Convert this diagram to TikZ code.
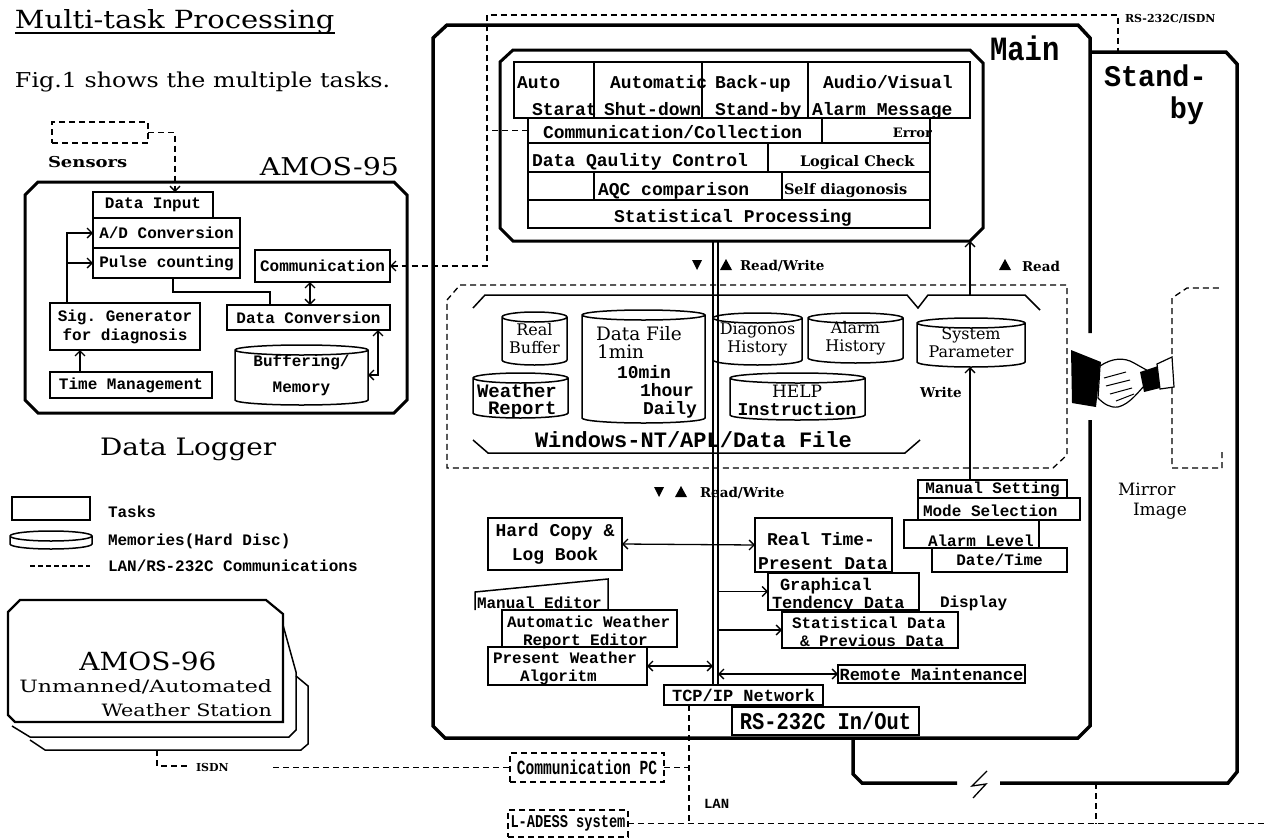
\documentclass[tikz,border=0pt]{standalone}
\usepackage{fontspec}
\setmainfont{DejaVu Serif}
\setmonofont{Liberation Mono}
\usetikzlibrary{arrows.meta,calc}

\newcommand\fsz[1]{\fontsize{#1}{#1}\selectfont}
\newcommand\hs[2]{\scalebox{#1}[1]{#2}}

\tikzset{
  every node/.style={inner sep=0pt,outer sep=0pt},
  mono/.style={font=\ttfamily\bfseries\fsz{#1}},
  rom/.style={font=\fsz{#1}},
  romb/.style={font=\bfseries\fsz{#1}},
  lbl/.style={anchor=base west},
  taskbox/.style={draw,line width=1.5pt,align=center},
  memline/.style={line width=1.5pt},
  conn/.style={line width=1.3pt},
  >={Straight Barb[length=5pt,width=10pt]},
  arr/.style={conn,->},
  darr/.style={conn,<->},
  comline/.style={line width=1.3pt,dash pattern=on 6pt off 4pt},
  heavy/.style={line width=3.5pt},
  panel/.style={line width=3pt},
}

% box given by its corners (x1,y1) (x2,y2)
\newcommand\boxat[7][]{\node[taskbox,#1,anchor=north west,
  minimum width={(#5-#3)*1pt},minimum height={(#6-#4)*1pt}] (#2) at (#3,#4) {#7};}
% drum (hard disc) symbol given by its corners
\newcommand\drumat[7][]{%
  \node[anchor=north west,align=center,#1,
    minimum width={(#5-#3)*1pt},minimum height={(#6-#4)*1pt}] (#2) at (#3,#4) {#7};
  \draw[memline] (#3,#4+5) -- (#3,#6-5)
     arc[start angle=180,end angle=0,x radius={(#5-#3)/2},y radius=5]
     -- (#5,#4+5)
     arc[start angle=0,end angle=-180,x radius={(#5-#3)/2},y radius=5] -- cycle
     (#3,#4+5) arc[start angle=180,end angle=0,x radius={(#5-#3)/2},y radius=5];}
\newcommand\tridown[3]{\fill (#2-5,#3-5) -- (#2+5,#3-5) -- (#2,#3+5) -- cycle;}
\newcommand\triup[3]{\fill (#2-6,#3+5) -- (#2+6,#3+5) -- (#2,#3-6) -- cycle;}

\begin{document}
\begin{tikzpicture}[x=1pt,y=-1pt]
\useasboundingbox (0,0) rectangle (1267,838);

% ---------- heading ----------
\node[rom=25,lbl] (title) at (15,28) {\hs{1.16}{Multi-task Processing}};
\draw[line width=1.2pt] ($(title.base west)+(0,5)$) -- ($(title.base east)+(0,5)$);
\node[rom=20.5,lbl] (intro) at (15,87) {\hs{1.16}{Fig.1 shows the multiple tasks.}};

% ---------- data logger AMOS-95 ----------
\node[draw,comline,anchor=north west,minimum width=96pt,minimum height=21pt] (sens) at (52,122) {};
\node[romb=15,lbl] (senslbl) at (48,167) {\hs{1.2}{Sensors}};
\node[rom=24.5,anchor=base east] (amos95) at (399,175) {\hs{1.16}{AMOS-95}};
\draw[panel] (25,195) -- (38,182) -- (394,182) -- (407,195) -- (407,400) -- (394,413) -- (38,413) -- (25,400) -- cycle;

\boxat[mono=16]{din}{93}{192}{213}{218}{Data Input}
\boxat[mono=16]{adc}{93}{218}{240}{248}{A/D Conversion}
\boxat[mono=16]{pulse}{93}{248}{240}{278}{Pulse counting}
\boxat[mono=16]{comm}{255}{250}{390}{282}{Communication}
\boxat[mono=16]{sig}{50}{303}{200}{350}{Sig. Generator\\[3pt] for diagnosis}
\boxat[mono=16]{dconv}{227}{305}{390}{330}{Data Conversion}
\boxat[mono=16]{tm}{50}{372}{212}{398}{Time Management}
\drumat[mono=16]{buf}{235}{345}{368}{405}{Buffering/\\[10pt]Memory}
\node[rom=24,lbl] (dlog) at (100,455) {\hs{1.16}{Data Logger}};

\coordinate (sensin) at (175,192);
\draw[comline,->] (sens.east) -| (sensin);
\draw[arr] ($(sig.north west)+(17,0)$) |- (adc.west);
\draw[arr] ($(sig.north west)+(17,0)$) |- (pulse.west);
\draw[arr] ($(tm.north west)+(30,0)$) -- ($(sig.south west)+(30,0)$);
\draw[conn] ($(pulse.south west)+(80,0)$) |- ($(dconv.north west)+(43,-13)$) -- ($(dconv.north west)+(43,0)$);
\draw[darr] ($(comm.south west)+(55,0)$) -- ($(dconv.north west)+(83,0)$);
\draw[darr] ($(dconv.south east)+(-12,0)$) |- (buf.east);

% ---------- legend ----------
\boxat{lgtask}{12}{497}{90}{520}{}
\node[mono=16,lbl] (lgt) at (108,517) {Tasks};
\drumat{lgmem}{10}{531}{92}{549}{}
\node[mono=16,lbl] (lgm) at (108,545) {Memories(Hard Disc)};
\coordinate (lgA) at (30,566); \coordinate (lgB) at (90,566);
\draw[line width=2pt,dash pattern=on 5pt off 3pt] (lgA) -- (lgB);
\node[mono=16,lbl] (lgl) at (108,571) {LAN/RS-232C Communications};

% ---------- AMOS-96 station ----------
\draw[line width=1.5pt] (296,676) -- (308,686) -- (308,744) -- (301,750) -- (45,750) -- (30,740);
\draw[line width=1.5pt] (283,625) -- (296,672) -- (296,730) -- (289,737) -- (30,737) -- (12,726);
\draw[line width=2.2pt,fill=white] (8,612) -- (20,600) -- (266,600) -- (283,614) -- (283,722) -- (15,722) -- (8,715) -- cycle;
\node[rom=25,anchor=base] (a96) at (148,670) {\hs{1.12}{AMOS-96}};
\node[rom=17,anchor=base east] (a96b) at (272,692) {\hs{1.3}{Unmanned/Automated}};
\node[rom=17,anchor=base east] (a96c) at (272,716) {\hs{1.22}{Weather Station}};

% ---------- main computer ----------
\draw[heavy] (1090,333) -- (1090,38) -- (1078,25) -- (447,25) -- (433,38) -- (433,726) -- (445,738) -- (1078,738) -- (1090,726) -- (1090,420);
\node[mono=34,lbl] (mainlbl) at (990,60) {\hs{0.85}{Main}};

% task panel
\draw[panel] (500,62) -- (513,50) -- (970,50) -- (983,63) -- (983,228) -- (970,241) -- (513,241) -- (500,228) -- cycle;
\boxat{c1}{514}{62}{594}{118}{}
\boxat{c2}{594}{62}{702}{118}{}
\boxat{c3}{702}{62}{808}{118}{}
\boxat{c4}{808}{62}{970}{118}{}
\boxat{c5}{528}{118}{822}{143}{}
\boxat{c6}{822}{118}{930}{143}{}
\boxat{c7}{528}{143}{768}{172}{}
\boxat{c8}{768}{143}{930}{172}{}
\boxat{c9}{594}{172}{782}{200}{}
\boxat{c10}{782}{172}{930}{200}{}
\boxat{c11}{528}{200}{930}{228}{}
\draw[line width=1.5pt] (c7.south west) -- (c11.north west);
\node[mono=18,lbl] (t1) at (517,88) {Auto};
\node[mono=18,lbl] (t2) at (532,115) {Starat};
\node[mono=18,lbl] (t3) at (610,88) {Automatic};
\node[mono=18,lbl] (t4) at (604,115) {Shut-down};
\node[mono=18,lbl] (t5) at (715,88) {Back-up};
\node[mono=18,lbl] (t6) at (715,115) {Stand-by};
\node[mono=18,lbl] (t7) at (823,88) {Audio/Visual};
\node[mono=18,lbl] (t8) at (812,115) {Alarm Message};
\node[mono=18,lbl] (t9) at (543,138) {Communication/Collection};
\node[romb=13,anchor=base east] (t10) at (932,137) {Error};
\node[mono=18,lbl] (t11) at (532,166) {Data Qaulity Control};
\node[romb=14.5,lbl] (t12) at (800,166) {Logical Check};
\node[romb=14.5,lbl] (t14) at (784,194) {Self diagonosis};
\node[mono=18,lbl] (t13) at (598,195) {AQC comparison};
\node[mono=18,anchor=base] (t15) at (733,222) {Statistical Processing};

% data file area
\draw[comline] (447,300) -- (460,285) -- (1067,285) -- (1067,455) -- (1053,468) -- (447,468) -- cycle;
\draw[memline] (473,308) -- (485,295) -- (907,295) -- (918,308) -- (928,295) -- (1025,295) -- (1040,310);
\draw[memline] (473,440) -- (488,453) -- (905,453) -- (920,440);
\drumat[rom=16]{rb}{502}{312}{567}{365}{Real\\[2pt]Buffer}
\drumat{df}{582}{310}{705}{423}{}
\node[rom=18.5,lbl] (df1) at (596,340) {Data File};
\node[rom=18.5,lbl] (df2) at (597,358) {1min};
\node[mono=18,lbl] (df3) at (617,378) {10min};
\node[mono=18,lbl] (df4) at (640,396) {1hour};
\node[mono=18,lbl] (df5) at (643,414) {Daily};
\drumat[rom=16]{dh}{713}{313}{802}{365}{Diagonos\\[2pt]History}
\drumat[rom=16]{ah}{808}{313}{903}{363}{Alarm\\[2pt]History}
\drumat[rom=16]{sp}{917}{318}{1025}{367}{System\\[2pt]Parameter}
\drumat{wr}{473}{373}{568}{418}{}
\node[mono=19,lbl] (wr1) at (477,397) {Weather};
\node[mono=19,lbl] (wr2) at (488,414) {Report};
\drumat{help}{730}{373}{865}{420}{}
\node[rom=17,anchor=base] (help1) at (797,397) {HELP};
\node[mono=18,anchor=base] (help2) at (797,415) {Instruction};
\node[mono=22,lbl] (winlbl) at (535,447) {Windows-NT/APL/Data File};

% lower task boxes
\boxat[mono=18]{hc}{488}{518}{622}{570}{Hard Copy \&\\[6pt]Log Book}
\boxat{rt}{755}{518}{892}{572}{}
\node[mono=18,lbl] (rt1) at (767,545) {Real Time-};
\node[mono=18,lbl] (rt2) at (758,569) {Present Data};
\boxat{gt}{768}{573}{919}{610}{}
\node[mono=17,lbl] (gt1) at (780,590) {Graphical};
\node[mono=17,lbl] (gt2) at (772,608) {Tendency Data};
\node[mono=16,lbl] (disp) at (940,607) {Display};
\boxat{sdp}{782}{612}{958}{648}{}
\node[mono=16,lbl] (sdp1) at (792,628) {Statistical Data};
\node[mono=16,lbl] (sdp2) at (800,646) {\& Previous Data};
\draw[line width=1.5pt] (475,610) -- (475,592) -- (608,579) -- (608,610);
\node[mono=16,lbl] (me) at (477,608) {Manual Editor};
\boxat[fill=white]{awr}{502}{610}{677}{647}{}
\node[mono=16,lbl] (awr1) at (507,627) {Automatic Weather};
\node[mono=16,lbl] (awr2) at (523,645) {Report Editor};
\boxat{pwa}{488}{647}{647}{685}{}
\node[mono=16,lbl] (pwa1) at (493,663) {Present Weather};
\node[mono=16,lbl] (pwa2) at (520,681) {Algoritm};
\boxat[mono=17]{rm}{838}{665}{1025}{683}{Remote Maintenance}
\boxat[mono=17]{tcp}{664}{685}{823}{705}{TCP/IP Network}
\boxat[mono=24]{rs}{732}{707}{919}{735}{\hs{0.85}{RS-232C In/Out}}

% settings boxes
\boxat[mono=16]{ms}{918}{480}{1067}{498}{Manual Setting}
\boxat{mode}{918}{498}{1080}{520}{}
\node[mono=16,lbl] (mode1) at (923,516) {Mode Selection};
\boxat{al}{904}{520}{1039}{548}{}
\node[mono=16,lbl] (al1) at (928,546) {Alarm Level};
\boxat[mono=16,fill=white]{dt}{932}{548}{1067}{572}{Date/Time}

% data bus and read/write links
\coordinate (busA) at (713,241);
\coordinate (busB) at (718,241);
\draw[line width=1.2pt] (busA) -- (busA |- tcp.north);
\draw[line width=1.2pt] (busB) -- (busB |- tcp.north);
\tridown{up1}{697}{265}
\triup{up2}{726}{265}
\node[romb=13.5,lbl] (rw1) at (740,270) {Read/Write};
\tridown{lo1}{659}{492}
\triup{lo2}{681}{492}
\node[romb=13.5,lbl] (rw2) at (700,497) {Read/Write};
\coordinate (rdA) at (970,295);
\coordinate (rdB) at (970,241);
\draw[arr] (rdA) -- (rdB);
\triup{rd}{1005}{265}
\node[romb=13.5,lbl] (rdlbl) at (1022,271) {Read};
\draw[arr] (ms.north -| rdA) -- (sp.south -| rdA);
\node[romb=13.5,lbl] (wrlbl) at (920,397) {Write};

\draw[darr] (hc.east) -- (rt.west);
\draw[arr] (gt.west -| busB) -- (gt.west);
\draw[arr] (sdp.west -| busB) -- (sdp.west);
\draw[darr] (pwa.east) -- (pwa.east -| busA);
\draw[darr] (rm.west -| busB) -- (rm.west);

% ---------- stand-by computer ----------
\draw[heavy] (1091,52) -- (1226,52) -- (1237,64) -- (1237,772) -- (1228,783) -- (1000,783);
\draw[heavy] (957,783) -- (862,783) -- (853,774) -- (853,738);
\draw[line width=1.3pt] (987,771) -- (972,786) -- (986,784) -- (973,798);
\node[mono=30,lbl] (sby1) at (1104,86) {\hs{0.95}{Stand-}};
\node[mono=30,anchor=base east] (sby2) at (1204,118) {\hs{0.95}{by}};
\draw[comline] (1222,452) -- (1222,468) -- (1172,468) -- (1172,298) -- (1187,288) -- (1222,288);
\node[rom=17,lbl] (mir1) at (1118,495) {Mirror};
\node[rom=17,lbl] (mir2) at (1133,515) {Image};

% handshake between the two computers
\fill (1071,350) -- (1101,362) -- (1096,407) -- (1072,403) -- cycle;
\draw[line width=1.2pt,fill=white] (1100,366) .. controls (1112,358) and (1124,357) .. (1134,363) -- (1150,372) -- (1146,384) .. controls (1138,392) and (1130,404) .. (1118,407) .. controls (1110,408) and (1104,404) .. (1098,398) -- cycle;
\draw[line width=1pt] (1104,378) -- (1126,372) (1106,386) -- (1130,380) (1110,394) -- (1132,388) (1116,401) -- (1134,394);
\fill (1140,372) -- (1158,366) -- (1160,388) -- (1144,392) -- cycle;
\draw[line width=1.2pt,fill=white] (1157,364) -- (1172,357) -- (1174,387) -- (1160,389) -- cycle;

% ---------- communication links ----------
\coordinate (netA) at (487,15);
\coordinate (netB) at (1118,15);
\coordinate (sbytop) at (1118,52);
\draw[comline,<-] (comm.east) -| (netA) -- (netB) -- (sbytop);
\draw[comline] (c5.west) -- ++(-41,0);
\node[romb=11,lbl] (rsisdn) at (1125,22) {RS-232C/ISDN};

\node[draw,comline,mono=20,anchor=north west,minimum width=154pt,minimum height=29pt] (cpc) at (510,753) {\hs{0.73}{Communication PC}};
\node[draw,comline,mono=18,anchor=north west,minimum width=120pt,minimum height=27pt] (ladess) at (508,810) {\hs{0.76}{L-ADESS system}};
\coordinate (isdnA) at (157,750);
\coordinate (isdnB) at (188,766);
\coordinate (isdnC) at (273,767.5);
\draw[comline] (isdnA) |- (isdnB);
\node[romb=11,lbl] (isdnlbl) at (196,771) {ISDN};
\draw[comline] (isdnC) -- (cpc.west);
\coordinate (lanTop) at ($(tcp.south west)+(25,0)$);
\coordinate (lanBot) at ($(tcp.south west)+(25,118)$);
\draw[comline] (lanTop) -- (lanBot);
\draw[comline] (cpc.east) -- (cpc.east -| lanTop);
\node[mono=14,lbl] (lanlbl) at (704,808) {LAN};
\coordinate (lanEnd) at (1267,823.5);
\draw[comline] (ladess.east) -- (lanEnd);
\coordinate (sbyLan) at (1096,783);
\draw[comline] (sbyLan) -- (sbyLan |- lanEnd);
\end{tikzpicture}
\end{document}
